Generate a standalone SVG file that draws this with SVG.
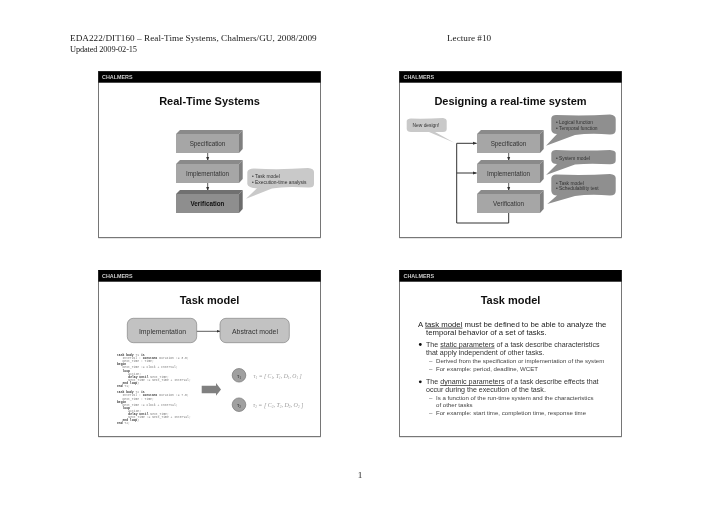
<svg xmlns="http://www.w3.org/2000/svg" width="720" height="509" viewBox="0 0 720 509">
<style>
.page{font-family:"Liberation Serif",serif;fill:#222;font-size:9.2px}
.upd{font-size:8.4px}
.slide{fill:#fff;stroke:#555;stroke-width:.8}
.foot{fill:#777}
.bar{fill:#000}
.brand{font-family:"Liberation Sans",sans-serif;font-weight:700;font-size:5.4px;fill:#ccc}
.title{font-family:"Liberation Sans",sans-serif;font-weight:700;font-size:11px;fill:#111;text-anchor:middle}
.front{fill:#a6a6a6}.top{fill:#8a8a8a}.side{fill:#7f7f7f}
.frontd{fill:#8e8e8e}.topd{fill:#707070}.sided{fill:#6c6c6c}
.bl{font-family:"Liberation Sans",sans-serif;font-size:6.3px;fill:#333;text-anchor:middle}
.bl6{font-size:6.9px}
.blb{font-weight:700;fill:#111}
.wire{fill:none;stroke:#333;stroke-width:.8}
.wire2{fill:none;stroke:#333;stroke-width:1}
.co{font-family:"Liberation Sans",sans-serif;font-size:4.9px;fill:#333}
.cl{fill:#c9c9c9}.cd{fill:#8f8f8f}
.rb{fill:#c2c2c2;stroke:#777;stroke-width:.6}
.code{font-family:"Liberation Mono",monospace;font-size:3.07px;fill:#777;white-space:pre}
.kw{font-weight:700;fill:#333}
.circ{fill:#a0a0a0;stroke:#666;stroke-width:.6}
.ct{font-family:"Liberation Serif",serif;font-size:6px;fill:#333;text-anchor:middle}
.math{font-family:"Liberation Serif",serif;font-style:italic;font-size:5.7px;fill:#999}
.b1{font-family:"Liberation Sans",sans-serif;font-size:7.75px;fill:#222}
.b2{font-family:"Liberation Sans",sans-serif;font-size:7.1px;fill:#333}
.b3{font-family:"Liberation Sans",sans-serif;font-size:6.1px;fill:#444}
.soft{filter:url(#soft)}
</style>
<defs>
<filter id="soft" x="-5%" y="-5%" width="110%" height="110%"><feGaussianBlur stdDeviation="0.3"/></filter>
<marker id="ah" markerWidth="4" markerHeight="4" refX="3.5" refY="2" orient="auto" markerUnits="userSpaceOnUse"><path d="M0 .5L4 2L0 3.5Z" fill="#333"/></marker>
<g id="box3d">
<path class="top" d="M0 4L4 0H66.7L63 4Z"/>
<path class="side" d="M63 4L66.7 0V19L63 23Z"/>
<path class="front" d="M0 4H63V23H0Z"/>
</g>
<g id="box3dd">
<path class="topd" d="M0 4L4 0H66.7L63 4Z"/>
<path class="sided" d="M63 4L66.7 0V19L63 23Z"/>
<path class="frontd" d="M0 4H63V23H0Z"/>
</g>
</defs>
<rect width="720" height="509" fill="#fff"/>
<g class="soft">
<g id="page-text">
<text class="page" x="70" y="41" textLength="246.7" lengthAdjust="spacing">EDA222/DIT160 – Real-Time Systems, Chalmers/GU, 2008/2009</text>
<text class="page" x="447" y="41">Lecture #10</text>
<text class="page upd" x="70" y="51.7" textLength="67" lengthAdjust="spacing">Updated 2009-02-15</text>
<text class="page" x="360" y="478" text-anchor="middle">1</text>
</g>
<g id="slide1">
<rect class="slide" x="98.5" y="71.5" width="222" height="166"/>
<rect class="foot" x="98.3" y="237" width="222.4" height="1.2"/>
<rect class="bar" x="98.3" y="71.3" width="222.4" height="11.4"/>
<text class="brand" x="102" y="79">CHALMERS</text>
<text class="title" x="209.5" y="104.5">Real-Time Systems</text>
<g id="s1-connectors">
<path class="wire" d="M207.7 152V160.5" marker-end="url(#ah)"/>
<path class="wire" d="M207.7 182V190.5" marker-end="url(#ah)"/>
</g>
<g id="s1-spec"><use href="#box3d" x="176" y="130"/><text class="bl" x="207.5" y="146">Specification</text></g>
<g id="s1-impl"><use href="#box3d" x="176" y="160"/><text class="bl" x="207.5" y="176">Implementation</text></g>
<g id="s1-ver"><use href="#box3dd" x="176" y="190"/><text class="bl blb" x="207.5" y="205.5">Verification</text></g>
<g id="s1-callout">
<path class="cl" d="M247.3 172Q248 168.5 254 168.5Q280 170 308 168Q314 168.5 314 172V184Q314 188 308 187.5Q285 186 272 188.5L246 198.7L257 188.3Q248 188 247.3 184Z"/>
<text class="co" x="252" y="178">• Task model</text>
<text class="co" x="252" y="184">• Execution-time analysis</text>
</g>
</g>
<g id="slide2">
<rect class="slide" x="399.5" y="71.5" width="222" height="166"/>
<rect class="foot" x="399.3" y="237" width="222.4" height="1.2"/>
<rect class="bar" x="399.3" y="71.3" width="222.4" height="11.4"/>
<text class="brand" x="403.5" y="79">CHALMERS</text>
<text class="title" x="510.5" y="104.5">Designing a real-time system</text>
<g id="s2-connectors">
<path class="wire" d="M508.7 152V160.5" marker-end="url(#ah)"/>
<path class="wire" d="M508.7 182V190.5" marker-end="url(#ah)"/>
<path class="wire2" d="M508.7 212V223H456.7V143.3H476.5" marker-end="url(#ah)"/>
<path class="wire2" d="M456.7 173H476.5" marker-end="url(#ah)"/>
</g>
<g id="s2-spec"><use href="#box3d" x="477" y="130"/><text class="bl" x="508.5" y="146">Specification</text></g>
<g id="s2-impl"><use href="#box3d" x="477" y="160"/><text class="bl" x="508.5" y="176">Implementation</text></g>
<g id="s2-ver"><use href="#box3d" x="477" y="190"/><text class="bl" x="508.5" y="205.5">Verification</text></g>
<g id="s2-new">
<path class="cl" d="M406.7 121Q407 118.5 411 118.5Q425 119 443 118Q446.7 118.5 446.7 121V129Q446.7 132 443 132H435L454.3 142.7L429 132H411Q407 132 406.7 129Z"/>
<text class="co" x="412.5" y="127">New design!</text>
</g>
<g id="s2-c1">
<path class="cd" d="M551.3 118Q552 115 556 115Q585 116 610 114.5Q615.7 115 615.7 119V130Q615.7 134.5 610 134.5Q590 133 575 135L546 145.7L557 134Q552 134 551.3 130Z"/>
<text class="co" x="556" y="124">• Logical function</text>
<text class="co" x="556" y="129.7">• Temporal function</text>
</g>
<g id="s2-c2">
<path class="cd" d="M551.3 153Q552 150 556 150Q585 151 610 150Q615.7 150.5 615.7 153V160.5Q615.7 164.3 610 164.3Q590 163 575 164.5L546 175L557 164Q552 164 551.3 160.5Z"/>
<text class="co" x="556" y="159.5">• System model</text>
</g>
<g id="s2-c3">
<path class="cd" d="M551.3 178Q552 174.5 556 174.5Q585 175.5 610 174Q615.7 174.5 615.7 178V191Q615.7 195.5 610 195.5Q590 194 575 196L547.3 204L557 195.5Q552 195.5 551.3 191Z"/>
<text class="co" x="556" y="184.5">• Task model</text>
<text class="co" x="556" y="190.3">• Schedulability test</text>
</g>
</g>
<g id="slide3">
<rect class="slide" x="98.5" y="270.5" width="222" height="166"/>
<rect class="foot" x="98.3" y="436" width="222.4" height="1.2"/>
<rect class="bar" x="98.3" y="270" width="222.4" height="11.7"/>
<text class="brand" x="102" y="278">CHALMERS</text>
<text class="title" x="209.5" y="303.5">Task model</text>
<g id="s3-connectors">
<path class="wire" d="M196.7 331.3H220" marker-end="url(#ah)"/>
<path d="M201.7 385.7H216V383L221 389.5L216 395.7V393.3H201.7Z" fill="#808080"/>
</g>
<g id="s3-impl"><rect class="rb" x="127.3" y="318.3" width="69.4" height="24.4" rx="6"/><text class="bl bl6" x="162.5" y="333.5">Implementation</text></g>
<g id="s3-abs"><rect class="rb" x="220" y="318.3" width="69.3" height="24.4" rx="6"/><text class="bl bl6" x="255" y="333.5">Abstract model</text></g>
<g id="s3-code">
<text class="code" x="117" y="356"><tspan class="kw">task body</tspan> T1 <tspan class="kw">is</tspan></text>
<text class="code" x="122.5" y="359.1">Interval : <tspan class="kw">constant</tspan> Duration := 3.0;</text>
<text class="code" x="122.5" y="362.2">Next_Time : Time;</text>
<text class="code kw" x="117" y="365.3">begin</text>
<text class="code" x="122.5" y="368.4">Next_Time := Clock + Interval;</text>
<text class="code kw" x="122.5" y="371.5">loop</text>
<text class="code" x="128.3" y="374.6">Action;</text>
<text class="code" x="128.3" y="377.7"><tspan class="kw">delay until</tspan> Next_Time;</text>
<text class="code" x="128.3" y="380.8">Next_Time := Next_Time + Interval;</text>
<text class="code kw" x="122.5" y="383.9">end loop;</text>
<text class="code" x="117" y="387"><tspan class="kw">end</tspan> T1;</text>
<text class="code" x="117" y="393.3"><tspan class="kw">task body</tspan> T2 <tspan class="kw">is</tspan></text>
<text class="code" x="122.5" y="396.4">Interval : <tspan class="kw">constant</tspan> Duration := 7.0;</text>
<text class="code" x="122.5" y="399.5">Next_Time : Time;</text>
<text class="code kw" x="117" y="402.6">begin</text>
<text class="code" x="122.5" y="405.7">Next_Time := Clock + Interval;</text>
<text class="code kw" x="122.5" y="408.8">loop</text>
<text class="code" x="128.3" y="411.9">Action;</text>
<text class="code" x="128.3" y="415"><tspan class="kw">delay until</tspan> Next_Time;</text>
<text class="code" x="128.3" y="418.1">Next_Time := Next_Time + Interval;</text>
<text class="code kw" x="122.5" y="421.2">end loop;</text>
<text class="code" x="117" y="424.3"><tspan class="kw">end</tspan> T2;</text>
</g>
<g id="s3-t1"><circle class="circ" cx="239" cy="375.3" r="6.8"/><text class="ct" x="239" y="377.5">τ<tspan font-size="3.6" dy="1">1</tspan></text>
<text class="math" x="253.5" y="377.5">τ<tspan font-size="3.4" dy="1">1</tspan><tspan dy="-1"> = [ C</tspan><tspan font-size="3.4" dy="1">1</tspan><tspan dy="-1">, T</tspan><tspan font-size="3.4" dy="1">1</tspan><tspan dy="-1">, D</tspan><tspan font-size="3.4" dy="1">1</tspan><tspan dy="-1">, O</tspan><tspan font-size="3.4" dy="1">1</tspan><tspan dy="-1"> ]</tspan></text></g>
<g id="s3-t2"><circle class="circ" cx="239" cy="404.7" r="6.8"/><text class="ct" x="239" y="407">τ<tspan font-size="3.6" dy="1">2</tspan></text>
<text class="math" style="font-size:6px" x="253" y="407">τ<tspan font-size="3.4" dy="1">2</tspan><tspan dy="-1"> = [ C</tspan><tspan font-size="3.4" dy="1">2</tspan><tspan dy="-1">, T</tspan><tspan font-size="3.4" dy="1">2</tspan><tspan dy="-1">, D</tspan><tspan font-size="3.4" dy="1">2</tspan><tspan dy="-1">, O</tspan><tspan font-size="3.4" dy="1">2</tspan><tspan dy="-1"> ]</tspan></text></g>
</g>
<g id="slide4">
<rect class="slide" x="399.5" y="270.5" width="222" height="166"/>
<rect class="foot" x="399.3" y="436" width="222.4" height="1.2"/>
<rect class="bar" x="399.3" y="270" width="222.4" height="11.7"/>
<text class="brand" x="403.5" y="278">CHALMERS</text>
<text class="title" x="510.5" y="303.5">Task model</text>
<text class="b1" x="418" y="326.7">A <tspan text-decoration="underline">task model</tspan> must be defined to be able to analyze the</text>
<text class="b1" x="426" y="334.7">temporal behavior of a set of tasks.</text>
<circle cx="420.3" cy="344.5" r="1.4" fill="#111"/>
<text class="b2" x="426" y="346.7">The <tspan text-decoration="underline">static parameters</tspan> of a task describe characteristics</text>
<text class="b2" x="426" y="354.7">that apply independent of other tasks.</text>
<text class="b3" x="429" y="362.7">–</text><text class="b3" x="436" y="362.7">Derived from the specification or implementation of the system</text>
<text class="b3" x="429" y="370.7">–</text><text class="b3" x="436" y="370.7">For example: period, deadline, WCET</text>
<circle cx="420.3" cy="381.8" r="1.4" fill="#111"/>
<text class="b2" x="426" y="384">The <tspan text-decoration="underline">dynamic parameters</tspan> of a task describe effects that</text>
<text class="b2" x="426" y="392">occur during the execution of the task.</text>
<text class="b3" x="429" y="400">–</text><text class="b3" x="436" y="400">Is a function of the run-time system and the characteristics</text>
<text class="b3" x="436" y="406.7">of other tasks</text>
<text class="b3" x="429" y="414.7">–</text><text class="b3" x="436" y="414.7">For example: start time, completion time, response time</text>
</g>
</g>
</svg>
